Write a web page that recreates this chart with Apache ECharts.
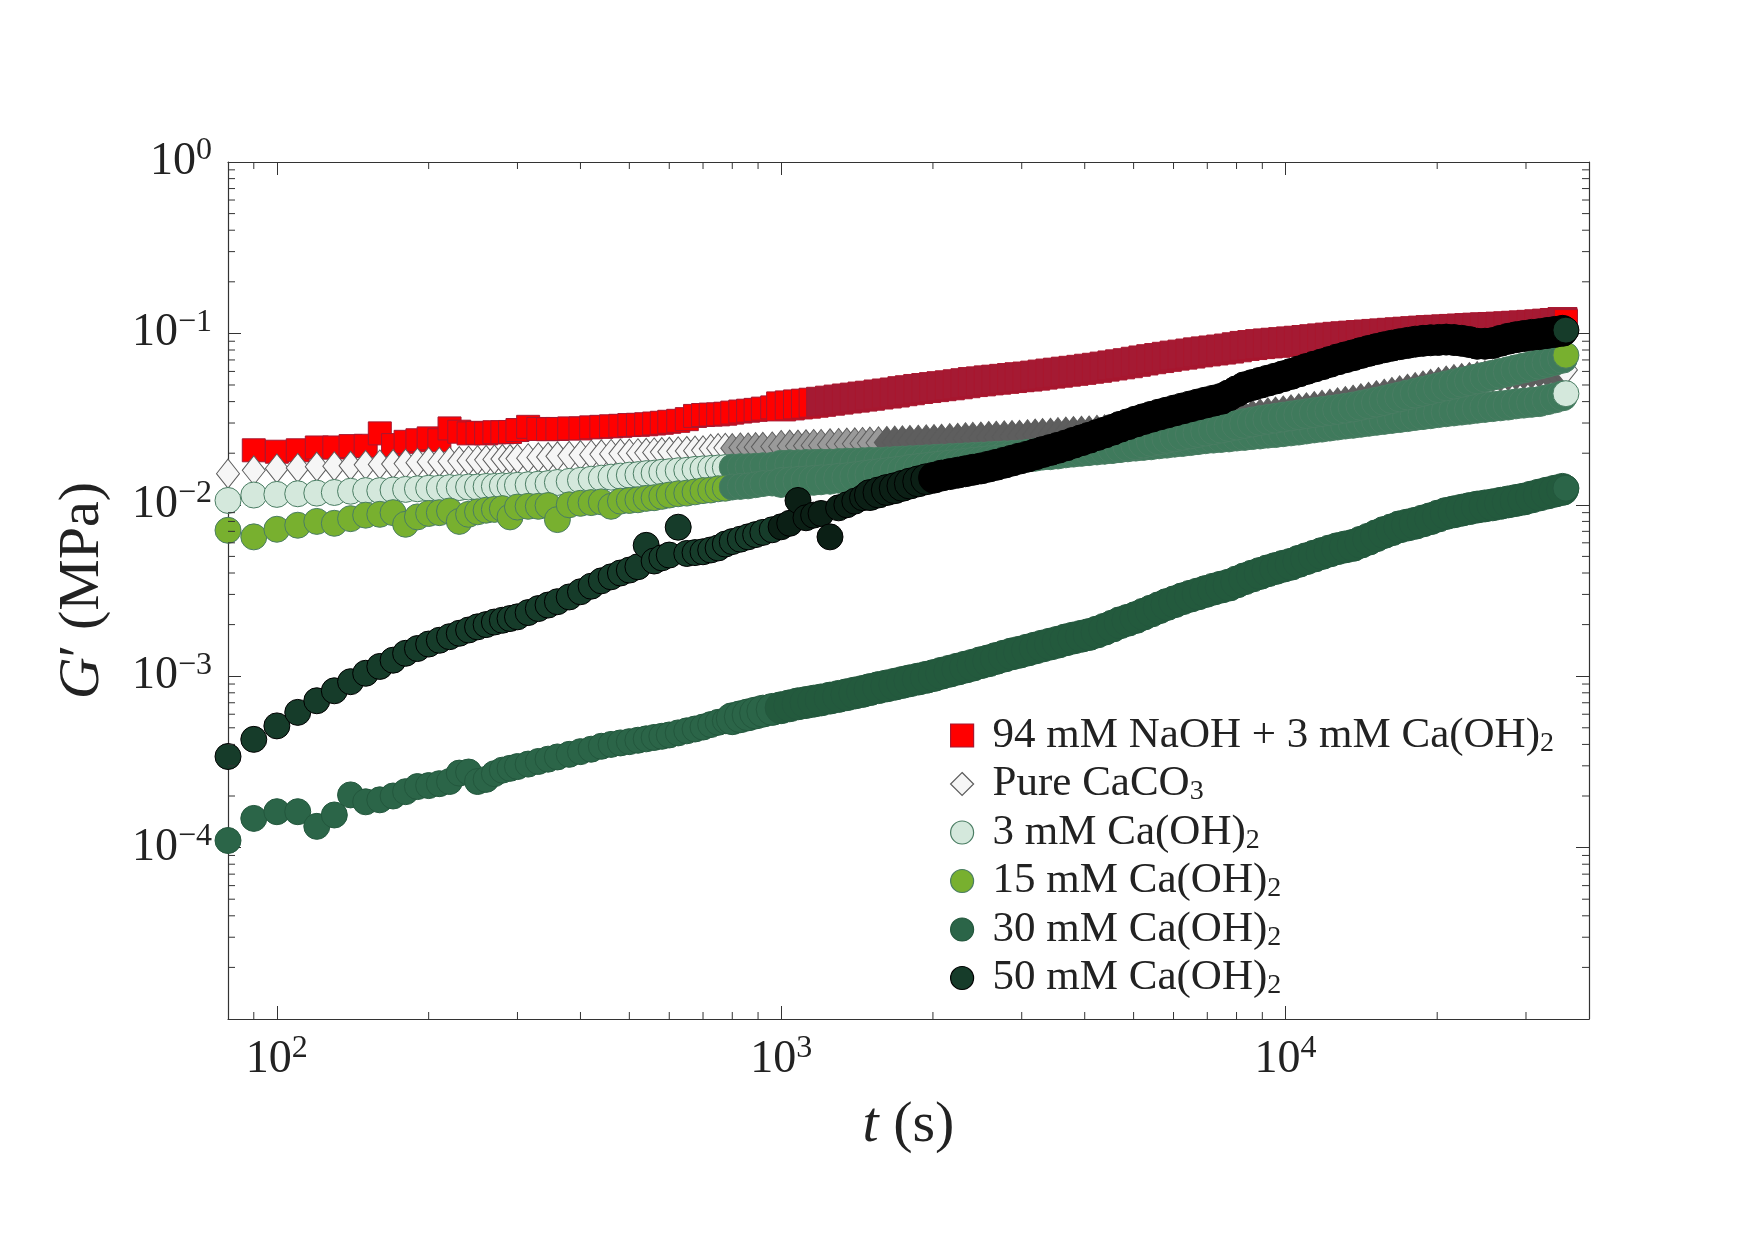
<!DOCTYPE html>
<html><head><meta charset="utf-8">
<script src="https://cdn.jsdelivr.net/npm/echarts@6/dist/echarts.min.js"></script>
<style>html,body{margin:0;padding:0;background:#fff}#c{width:1755px;height:1240px}</style>
</head><body><div id="c"></div>
<script>
// ---------------- data ----------------
const tSec = [
  80, 90, 100, 110, 120, 130, 140, 150, 160, 170,
  180, 190, 200, 210, 220, 230, 240, 250, 260, 270,
  280, 290, 300, 315, 330, 345, 360, 380, 400, 420,
  440, 460, 480, 500, 520, 540, 560, 580, 600, 625,
  650, 675, 700, 725, 750, 775, 800, 830, 860, 890,
  920, 960, 1000, 1040, 1080, 1120, 1160, 1200, 1250, 1300,
  1350, 1400, 1450, 1500, 1560, 1620, 1680, 1740, 1800, 1870,
  1940, 2010, 2080, 2160, 2240, 2320, 2400, 2490, 2580, 2670,
  2770, 2870, 2970, 3080, 3190, 3300, 3420, 3540, 3670, 3800,
  3940, 4080, 4230, 4380, 4540, 4700, 4870, 5050, 5230, 5420,
  5620, 5820, 6030, 6250, 6480, 6710, 6950, 7200, 7460, 7730,
  8010, 8300, 8600, 8910, 9230, 9560, 9900, 10260, 10630, 11010,
  11410, 11820, 12250, 12690, 13150, 13620, 14110, 14620, 15150, 15700,
  16260, 16850, 17460, 18090, 18740, 19410, 20110, 20840, 21590, 22370,
  23170, 24010, 24870, 25770, 26700, 27660, 28660, 29690, 30760, 31870,
  33020, 34210, 35440, 36000
];
const gNaOH = [
  null, .0208, .0204, .0208, .0216, .0216, .0220, .0221, .0261, .0223,
  .0233, .0238, .0244, .0238, .0279, .0267, .0261, .0263, .0261, .0265,
  .0265, .0266, .0273, .0285, .0277, .0276, .0277, .0279, .0279, .0283,
  .0285, .0287, .0289, .0292, .0293, .0295, .0298, .0301, .0305, .0309,
  .0316, .0330, .0334, .0336, .0337, .0340, .0345, .0350, .0354, .0358,
  .0364, .0370, .0375, .0380, .0385, .0389, .0394, .0399, .0405, .0411,
  .0417, .0422, .0428, .0433, .0440, .0446, .0452, .0460, .0466, .0474,
  .0480, .0486, .0492, .0498, .0505, .0512, .0520, .0525, .0532, .0537,
  .0543, .0549, .0555, .0560, .0567, .0575, .0583, .0590, .0598, .0605,
  .0613, .0622, .0630, .0640, .0650, .0660, .0670, .0683, .0695, .0707,
  .0718, .0730, .0742, .0752, .0763, .0775, .0785, .0795, .0805, .0816,
  .0830, .0845, .0855, .0866, .0874, .0882, .0889, .0898, .0906, .0915,
  .0925, .0935, .0945, .0955, .0962, .0970, .0978, .0985, .0993, .1000,
  .1008, .1015, .1023, .1030, .1038, .1045, .1050, .1056, .1062, .1068,
  .1074, .1080, .1085, .1090, .1095, .1100, .1108, .1114, .1122, .1130,
  .1140, .1150, .1165, .1180
];
const gPure = [
  .0152, .0159, .0163, .0164, .0167, .0168, .0169, .0171, .0172, .0173,
  .0174, .0176, .0178, .0178, .0179, .0180, .0181, .0182, .0183, .0184,
  .0185, .0185, .0186, .0187, .0189, .0190, .0192, .0193, .0195, .0196,
  .0197, .0198, .0199, .0199, .0200, .0201, .0202, .0203, .0204, .0205,
  .0206, .0207, .0208, .0212, .0214, .0215, .0214, .0216, .0216, .0217,
  .0218, .0219, .0219, .0220, .0220, .0221, .0222, .0222, .0224, .0225,
  .0226, .0227, .0228, .0229, .0230, .0231, .0232, .0233, .0234, .0235,
  .0236, .0237, .0238, .0240, .0241, .0243, .0244, .0245, .0247, .0248,
  .0249, .0250, .0251, .0253, .0255, .0257, .0258, .0260, .0262, .0264,
  .0265, .0266, .0268, .0270, .0272, .0273, .0277, .0280, .0284, .0287,
  .0290, .0293, .0296, .0299, .0302, .0305, .0308, .0311, .0314, .0317,
  .0321, .0325, .0330, .0334, .0339, .0343, .0348, .0353, .0358, .0363,
  .0369, .0375, .0381, .0388, .0395, .0402, .0410, .0418, .0427, .0436,
  .0446, .0456, .0466, .0476, .0487, .0498, .0510, .0520, .0530, .0538,
  .0545, .0552, .0558, .0564, .0569, .0574, .0580, .0586, .0592, .0598,
  .0603, .0607, .0610, .0612
];
const g3mM = [
  .0106, .0114, .0115, .0116, .0117, .0118, .0120, .0121, .0121, .0122,
  .0123, .0124, .0125, .0125, .0126, .0126, .0127, .0127, .0128, .0128,
  .0129, .0129, .0130, .0131, .0132, .0133, .0135, .0137, .0139, .0141,
  .0143, .0145, .0147, .0149, .0150, .0152, .0153, .0155, .0156, .0158,
  .0159, .0161, .0162, .0163, .0164, .0165, .0166, .0167, .0167, .0168,
  .0169, .0170, .0170, .0171, .0171, .0172, .0172, .0173, .0173, .0174,
  .0175, .0175, .0176, .0177, .0177, .0178, .0179, .0180, .0181, .0182,
  .0183, .0184, .0185, .0186, .0187, .0188, .0189, .0190, .0191, .0192,
  .0193, .0194, .0195, .0197, .0199, .0200, .0202, .0203, .0205, .0206,
  .0208, .0209, .0211, .0212, .0214, .0216, .0218, .0220, .0222, .0224,
  .0227, .0229, .0232, .0234, .0237, .0240, .0243, .0245, .0247, .0249,
  .0252, .0254, .0257, .0259, .0262, .0264, .0267, .0270, .0273, .0277,
  .0281, .0284, .0288, .0292, .0296, .0299, .0303, .0307, .0311, .0315,
  .0319, .0323, .0327, .0332, .0336, .0340, .0345, .0349, .0353, .0357,
  .0361, .0366, .0370, .0374, .0378, .0382, .0388, .0392, .0396, .0400,
  .0410, .0420, .0432, .0445
];
const g15mM = [
  .0071, .0065, .0072, .0076, .0080, .0078, .0083, .0087, .0088, .0090,
  .0077, .0085, .0089, .0090, .0092, .0080, .0088, .0091, .0093, .0094,
  .0095, .0085, .0097, .0098, .0098, .0099, .0082, .0100, .0102, .0103,
  .0104, .0098, .0105, .0106, .0107, .0109, .0110, .0112, .0114, .0116,
  .0117, .0119, .0121, .0122, .0124, .0125, .0127, .0128, .0129, .0131,
  .0133, .0134, .0135, .0136, .0137, .0138, .0139, .0140, .0141, .0143,
  .0144, .0146, .0148, .0150, .0152, .0154, .0156, .0158, .0161, .0163,
  .0165, .0167, .0169, .0171, .0173, .0175, .0177, .0179, .0181, .0182,
  .0184, .0186, .0188, .0190, .0192, .0195, .0196, .0198, .0201, .0203,
  .0205, .0207, .0209, .0211, .0213, .0216, .0220, .0224, .0229, .0234,
  .0239, .0244, .0249, .0254, .0259, .0264, .0269, .0274, .0280, .0286,
  .0292, .0298, .0304, .0310, .0315, .0320, .0325, .0330, .0335, .0340,
  .0345, .0350, .0355, .0360, .0366, .0372, .0380, .0388, .0397, .0406,
  .0416, .0426, .0437, .0448, .0459, .0470, .0482, .0494, .0506, .0518,
  .0530, .0543, .0556, .0570, .0584, .0598, .0613, .0628, .0644, .0660,
  .0677, .0696, .0716, .0746
];
const g30mM = [
  1.10e-4, 1.48e-4, 1.62e-4, 1.62e-4, 1.33e-4, 1.55e-4, 2.03e-4, 1.85e-4, 1.90e-4, 2.00e-4,
  2.12e-4, 2.27e-4, 2.30e-4, 2.36e-4, 2.43e-4, 2.72e-4, 2.76e-4, 2.43e-4, 2.50e-4, 2.70e-4,
  2.83e-4, 2.90e-4, 2.97e-4, 3.07e-4, 3.18e-4, 3.28e-4, 3.38e-4, 3.50e-4, 3.63e-4, 3.75e-4,
  3.90e-4, 4.00e-4, 4.08e-4, 4.15e-4, 4.23e-4, 4.31e-4, 4.39e-4, 4.46e-4, 4.54e-4, 4.67e-4,
  4.80e-4, 4.92e-4, 5.05e-4, 5.22e-4, 5.38e-4, 5.50e-4, 5.65e-4, 5.80e-4, 5.95e-4, 6.10e-4,
  6.25e-4, 6.40e-4, 6.55e-4, 6.72e-4, 6.90e-4, 7.02e-4, 7.15e-4, 7.27e-4, 7.45e-4, 7.62e-4,
  7.80e-4, 7.98e-4, 8.15e-4, 8.35e-4, 8.58e-4, 8.78e-4, 8.98e-4, 9.20e-4, 9.40e-4, 9.62e-4,
  9.85e-4, 1.01e-3, 1.04e-3, 1.07e-3, 1.10e-3, 1.13e-3, 1.16e-3, 1.20e-3, 1.23e-3, 1.27e-3,
  1.31e-3, 1.35e-3, 1.38e-3, 1.42e-3, 1.46e-3, 1.50e-3, 1.54e-3, 1.58e-3, 1.63e-3, 1.67e-3,
  1.71e-3, 1.75e-3, 1.81e-3, 1.88e-3, 1.96e-3, 2.05e-3, 2.12e-3, 2.20e-3, 2.30e-3, 2.40e-3,
  2.51e-3, 2.62e-3, 2.72e-3, 2.83e-3, 2.93e-3, 3.02e-3, 3.12e-3, 3.22e-3, 3.31e-3, 3.40e-3,
  3.55e-3, 3.70e-3, 3.84e-3, 3.98e-3, 4.12e-3, 4.25e-3, 4.38e-3, 4.50e-3, 4.68e-3, 4.85e-3,
  5.02e-3, 5.20e-3, 5.38e-3, 5.55e-3, 5.68e-3, 5.80e-3, 6.05e-3, 6.30e-3, 6.60e-3, 6.90e-3,
  7.15e-3, 7.44e-3, 7.62e-3, 7.80e-3, 8.05e-3, 8.30e-3, 8.60e-3, 8.90e-3, 9.10e-3, 9.30e-3,
  9.50e-3, 9.70e-3, 9.85e-3, 1.00e-2, 1.02e-2, 1.04e-2, 1.06e-2, 1.08e-2, 1.11e-2, 1.14e-2,
  1.17e-2, 1.20e-2, 1.23e-2, 1.25e-2
];
const g50mM = [
  3.40e-4, 4.28e-4, 5.13e-4, 6.15e-4, 7.19e-4, 8.22e-4, 9.29e-4, 1.04e-3, 1.14e-3, 1.24e-3,
  1.36e-3, 1.45e-3, 1.54e-3, 1.62e-3, 1.70e-3, 1.78e-3, 1.86e-3, 1.94e-3, 2.00e-3, 2.07e-3,
  2.12e-3, 2.17e-3, 2.22e-3, 2.35e-3, 2.48e-3, 2.60e-3, 2.72e-3, 2.90e-3, 3.11e-3, 3.35e-3,
  3.60e-3, 3.80e-3, 4.00e-3, 4.16e-3, 4.35e-3, 5.80e-3, 4.70e-3, 4.90e-3, 5.09e-3, 7.40e-3,
  5.20e-3, 5.26e-3, 5.32e-3, 5.45e-3, 5.60e-3, 5.90e-3, 6.10e-3, 6.30e-3, 6.50e-3, 6.70e-3,
  6.90e-3, 7.15e-3, 7.44e-3, 7.80e-3, 1.06e-2, 8.40e-3, 8.70e-3, 8.90e-3, 6.50e-3, 9.60e-3,
  1.00e-2, 1.05e-2, 1.10e-2, 1.14e-2, 1.18e-2, 1.22e-2, 1.25e-2, 1.29e-2, 1.33e-2, 1.37e-2,
  1.41e-2, 1.44e-2, 1.48e-2, 1.51e-2, 1.54e-2, 1.57e-2, 1.60e-2, 1.63e-2, 1.67e-2, 1.71e-2,
  1.76e-2, 1.81e-2, 1.86e-2, 1.91e-2, 1.97e-2, 2.03e-2, 2.09e-2, 2.15e-2, 2.22e-2, 2.30e-2,
  2.38e-2, 2.46e-2, 2.55e-2, 2.64e-2, 2.74e-2, 2.85e-2, 2.95e-2, 3.06e-2, 3.16e-2, 3.26e-2,
  3.36e-2, 3.45e-2, 3.55e-2, 3.65e-2, 3.75e-2, 3.85e-2, 3.95e-2, 4.05e-2, 4.15e-2, 4.35e-2,
  4.60e-2, 4.85e-2, 5.00e-2, 5.15e-2, 5.30e-2, 5.45e-2, 5.62e-2, 5.80e-2, 6.00e-2, 6.20e-2,
  6.40e-2, 6.60e-2, 6.82e-2, 7.05e-2, 7.25e-2, 7.45e-2, 7.68e-2, 7.90e-2, 8.10e-2, 8.30e-2,
  8.48e-2, 8.65e-2, 8.80e-2, 8.95e-2, 9.05e-2, 9.12e-2, 9.16e-2, 9.20e-2, 9.15e-2, 9.05e-2,
  8.90e-2, 8.70e-2, 8.70e-2, 8.78e-2, 9.05e-2, 9.30e-2, 9.50e-2, 9.65e-2, 9.80e-2, 9.90e-2,
  1.005e-1, 1.02e-1, 1.035e-1, 1.045e-1
];
const seriesNames = [
  '94 mM NaOH + 3 mM Ca(OH)₂', 'Pure CaCO₃', '3 mM Ca(OH)₂',
  '15 mM Ca(OH)₂', '30 mM Ca(OH)₂', '50 mM Ca(OH)₂'
];
const xMinorTicks = [90, 200, 300, 400, 500, 600, 700, 800, 900,
  2000, 3000, 4000, 5000, 6000, 7000, 8000, 9000, 20000, 30000];
const yMinorTicks = [
  2e-5, 3e-5, 4e-5, 5e-5, 6e-5, 7e-5, 8e-5, 9e-5,
  2e-4, 3e-4, 4e-4, 5e-4, 6e-4, 7e-4, 8e-4, 9e-4,
  2e-3, 3e-3, 4e-3, 5e-3, 6e-3, 7e-3, 8e-3, 9e-3,
  2e-2, 3e-2, 4e-2, 5e-2, 6e-2, 7e-2, 8e-2, 9e-2,
  2e-1, 3e-1, 4e-1, 5e-1, 6e-1, 7e-1, 8e-1, 9e-1];
const xRange = [80, 40000];
const yRange = [1e-5, 1];

// ---------------- styles ----------------
const F = '"Liberation Serif", "Times New Roman", serif';
const AX = '#333333';
const TXT = '#222222';
const seriesValues = [gNaOH, gPure, g3mM, g15mM, g30mM, g50mM];
const looks = [
  {symbol: 'rect', size: 23, bigFrom: 1000, big: 29, fill: '#ff0000', edge: '#a8172f', dense: [[1200, '#a51a33']]},
  {symbol: 'diamond', size: [23, 29], bigFrom: 1000, big: [25, 32], fill: '#f6f6f6', edge: '#5c5c5c', dense: [[800, '#9a9a9a'], [1600, '#5e5e5e']]},
  {symbol: 'circle', size: 26, bigFrom: 1000, big: 30, fill: '#d4e8dc', edge: '#4a7d63', dense: [[800, '#3f7a5c']]},
  {symbol: 'circle', size: 26, bigFrom: 1000, big: 30, fill: '#78b02f', edge: '#4a7d63', dense: [[800, '#3f7a5c']]},
  {symbol: 'circle', size: 26, bigFrom: 800, big: 32, fill: '#2b6548', edge: '#23573d', dense: [[1000, '#235a3d']]},
  {symbol: 'circle', size: 26, bigFrom: 1500, big: 31, fill: '#163c2a', edge: '#000000', dense: [[1000, '#0b1f15'], [2000, '#000000']]}
];
const legendRich = {
  '94 mM NaOH + 3 mM Ca(OH)₂': '{n|94 mM NaOH + 3 mM Ca(OH)}{sub|2}',
  'Pure CaCO₃': '{n|Pure CaCO}{sub|3}',
  '3 mM Ca(OH)₂': '{n|3 mM Ca(OH)}{sub|2}',
  '15 mM Ca(OH)₂': '{n|15 mM Ca(OH)}{sub|2}',
  '30 mM Ca(OH)₂': '{n|30 mM Ca(OH)}{sub|2}',
  '50 mM Ca(OH)₂': '{n|50 mM Ca(OH)}{sub|2}'
};

function powLabel(v) {
  const e = Math.round(Math.log10(v));
  return '{b|10}{s|' + (e < 0 ? '\u2212' + (-e) : String(e)) + '}';
}
const powRich = {
  b: {fontFamily: F, fontSize: 46, lineHeight: 54, color: TXT},
  s: {fontFamily: F, fontSize: 32, lineHeight: 27, verticalAlign: 'top', color: TXT}
};

const scatterSeries = seriesNames.map((name, k) => {
  const look = looks[k];
  const pts = [];
  tSec.forEach((t, i) => { const v = seriesValues[k][i]; if (v != null) pts.push([t, v]); });
  const last = pts.length - 1;
  return {
    name, type: 'scatter', data: pts, clip: false,
    symbol: look.symbol,
    symbolSize: (val, p) => (p && p.dataIndex !== last && val[0] >= look.bigFrom) ? look.big : look.size,
    itemStyle: {
      color: p => {
        if (p.dataIndex === last) return look.fill;
        let c = look.fill;
        look.dense.forEach(([thr, col]) => { if (p.value[0] >= thr) c = col; });
        return c;
      },
      borderColor: look.edge, borderWidth: 1, opacity: 1
    },
    emphasis: {disabled: true}, z: 3 + k
  };
});

const minorTickSeries = [
  {
    type: 'custom', coordinateSystem: 'cartesian2d', silent: true, clip: false, z: 10,
    data: xMinorTicks.map(v => [v, yRange[0]]),
    renderItem: (params, api) => {
      const b = api.coord([api.value(0), yRange[0]]);
      const t = api.coord([api.value(0), yRange[1]]);
      return {type: 'group', children: [
        {type: 'line', shape: {x1: b[0], y1: b[1], x2: b[0], y2: b[1] - 7}, style: {stroke: AX, lineWidth: 1}},
        {type: 'line', shape: {x1: t[0], y1: t[1], x2: t[0], y2: t[1] + 7}, style: {stroke: AX, lineWidth: 1}}
      ]};
    }
  },
  {
    type: 'custom', coordinateSystem: 'cartesian2d', silent: true, clip: false, z: 10,
    data: yMinorTicks.map(v => [xRange[0], v]),
    renderItem: (params, api) => {
      const l = api.coord([xRange[0], api.value(1)]);
      const r = api.coord([xRange[1], api.value(1)]);
      return {type: 'group', children: [
        {type: 'line', shape: {x1: l[0], y1: l[1], x2: l[0] + 7, y2: l[1]}, style: {stroke: AX, lineWidth: 1}},
        {type: 'line', shape: {x1: r[0], y1: r[1], x2: r[0] - 7, y2: r[1]}, style: {stroke: AX, lineWidth: 1}}
      ]};
    }
  }
];

const axisCommon = {
  type: 'log', logBase: 10,
  axisLine: {show: true, onZero: false, lineStyle: {color: AX, width: 1.2}},
  axisTick: {show: true, inside: true, length: 13, lineStyle: {color: AX, width: 1}},
  splitLine: {show: false}, minorTick: {show: false}, minorSplitLine: {show: false}
};

const option = {
  animation: false,
  backgroundColor: '#ffffff',
  grid: {left: 228, right: 166, top: 162, bottom: 221, containLabel: false},
  xAxis: [
    Object.assign({}, axisCommon, {
      position: 'bottom', min: xRange[0], max: xRange[1],
      axisLabel: {formatter: powLabel, rich: powRich, margin: 14, showMinLabel: false, showMaxLabel: false},
      name: '{i|t} (s)', nameLocation: 'middle', nameGap: 78,
      nameTextStyle: {fontFamily: F, fontSize: 58, color: TXT,
        rich: {i: {fontFamily: F, fontSize: 58, fontStyle: 'italic', color: TXT}}}
    }),
    Object.assign({}, axisCommon, {
      position: 'top', min: xRange[0], max: xRange[1], axisLabel: {show: false}
    })
  ],
  yAxis: [
    Object.assign({}, axisCommon, {
      position: 'left', min: yRange[0], max: yRange[1],
      axisLabel: {formatter: powLabel, rich: powRich, margin: 16, showMinLabel: false},
      name: '{i|G}\u2032 (MPa)', nameLocation: 'middle', nameGap: 116,
      nameTextStyle: {fontFamily: F, fontSize: 58, color: TXT,
        rich: {i: {fontFamily: F, fontSize: 58, fontStyle: 'italic', color: TXT}}}
    }),
    Object.assign({}, axisCommon, {
      position: 'right', min: yRange[0], max: yRange[1], axisLabel: {show: false}
    })
  ],
  legend: {
    orient: 'vertical', left: 945, top: 709, itemWidth: 23, itemHeight: 23, itemGap: 5,
    selectedMode: false,
    data: seriesNames.map((n, k) => ({
      name: n, icon: looks[k].symbol,
      itemStyle: {color: looks[k].fill, borderColor: looks[k].edge, borderWidth: 1.2}
    })),
    formatter: n => legendRich[n],
    textStyle: {
      fontFamily: F, fontSize: 43, color: TXT, padding: [0, 0, 0, 14],
      rich: {
        n: {fontFamily: F, fontSize: 43, lineHeight: 44, color: TXT},
        sub: {fontFamily: F, fontSize: 28, lineHeight: 22, verticalAlign: 'bottom', color: TXT}
      }
    }
  },
  series: scatterSeries.concat(minorTickSeries)
};

const chart = echarts.init(document.getElementById('c'), null, {renderer: 'canvas'});
chart.setOption(option);
</script>
</body></html>
